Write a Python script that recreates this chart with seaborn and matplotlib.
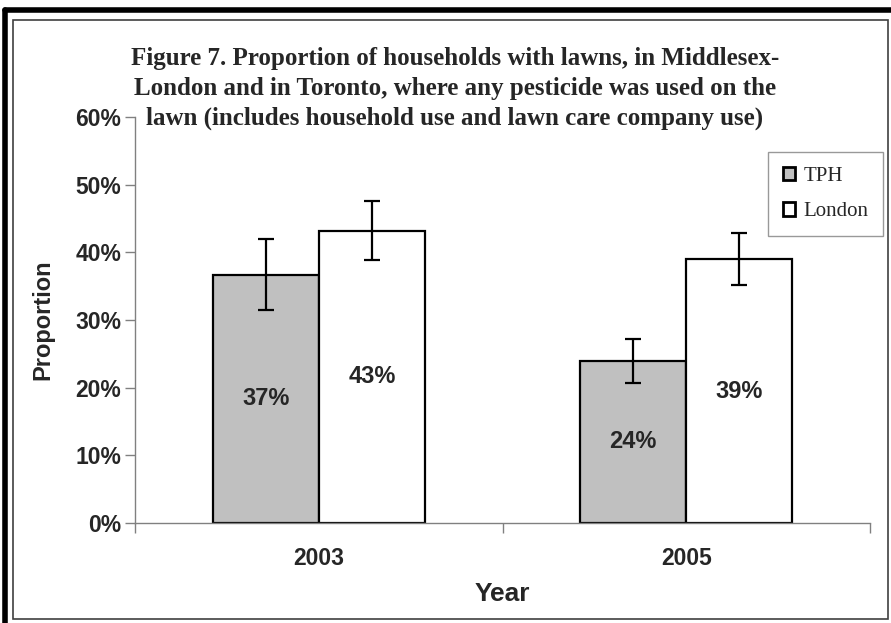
import matplotlib
matplotlib.use("Agg")
import matplotlib.pyplot as plt
from matplotlib.patches import Rectangle
from matplotlib.lines import Line2D
from matplotlib.ticker import FuncFormatter
import pandas as pd
import seaborn as sns

# data (percent)
years = ["2003", "2005"]
groups = ["TPH", "London"]
tph_vals = [36.7, 24.0]
london_vals = [43.2, 39.0]
tph_err = [5.2, 3.25]
london_err = [4.4, 3.8]
bar_colors = ["#C0C0C0", "#FFFFFF"]
title_lines = [
    "Figure 7. Proportion of households with lawns, in Middlesex-",
    "London and in Toronto, where any pesticide was used on the",
    "lawn (includes household use and lawn care company use)",
]

df = pd.DataFrame({
    "Year": years * 2,
    "Group": [groups[0]] * 2 + [groups[1]] * 2,
    "Proportion": tph_vals + london_vals,
})

sns.set_style("white")
plt.rcParams["font.family"] = ["Liberation Sans", "DejaVu Sans"]

W, H = 891, 623
fig = plt.figure(figsize=(W / 100, H / 100), dpi=100)
ax = fig.add_axes([135 / W, 1 - 523 / H, (870 - 135) / W, (523 - 117) / H])

sns.barplot(data=df, x="Year", y="Proportion", hue="Group", order=years,
            hue_order=groups, palette=bar_colors, width=0.578,
            edgecolor="black", linewidth=1.6, errorbar=None, ax=ax)

# error bars and centre labels
errs = [tph_err, london_err]
for cont, err in zip(ax.containers, errs):
    xs = [p.get_x() + p.get_width() / 2 for p in cont]
    ys = [p.get_height() for p in cont]
    ax.errorbar(xs, ys, yerr=err, fmt="none", ecolor="black",
                elinewidth=1.6, capsize=5.5, capthick=1.6, zorder=5)
    ax.bar_label(cont, labels=[f"{round(v):d}%" for v in ys],
                 label_type="center", fontsize=17, fontweight="bold")

ax.set_xlim(-0.5, 1.5)
ax.set_ylim(0, 60)
ax.set_yticks(range(0, 61, 10))
ax.yaxis.set_major_formatter(FuncFormatter(lambda v, p: f"{v:.0f}%"))
ax.set_xticks([-0.5, 0.5, 1.5], minor=True)
ax.tick_params(axis="x", which="major", length=0, pad=17, labelsize=16.5)
ax.tick_params(axis="x", which="minor", length=7, direction="out",
               color="#808080", width=1, bottom=True)
ax.tick_params(axis="y", length=7, direction="out", color="#808080",
               width=1, left=True, pad=3, labelsize=16.5)
for t in ax.get_xticklabels() + ax.get_yticklabels():
    t.set_fontweight("bold")

for s in ["top", "right"]:
    ax.spines[s].set_visible(False)
for s in ["left", "bottom"]:
    ax.spines[s].set_color("#808080")
    ax.spines[s].set_linewidth(1)

ax.set_xlabel("Year", fontsize=19, fontweight="bold", labelpad=9)
ax.set_ylabel("Proportion", fontsize=17, fontweight="bold", labelpad=15)

leg = ax.legend(loc="upper right", bbox_to_anchor=(883 / W, 1 - 152 / H),
                bbox_transform=fig.transFigure, frameon=True, fancybox=False,
                borderaxespad=0,
                prop={"family": "Liberation Serif", "size": 15},
                handlelength=0.6, handleheight=0.6, handletextpad=0.4,
                labelspacing=0.8, borderpad=0.7)
leg.get_frame().set_edgecolor("#808080")
leg.get_frame().set_linewidth(1)
for h in leg.legend_handles:
    h.set_linewidth(2)

# title
for i, line in enumerate(title_lines):
    fig.text(455 / W, 1 - (58 + 30 * i) / H, line, ha="center", va="center",
             fontsize=18, fontweight="bold", family="Liberation Serif")

# chart area border and thick frame
fig.add_artist(Rectangle((13 / W, 1 - 619 / H), (888 - 13) / W, (619 - 20) / H,
                         transform=fig.transFigure, fill=False,
                         edgecolor="#404040", linewidth=1.2))
fig.add_artist(Line2D([5 / W, 5 / W], [0, 1 - 10 / H], transform=fig.transFigure,
                      color="black", linewidth=4))
fig.add_artist(Line2D([5 / W, 1], [1 - 10 / H, 1 - 10 / H], transform=fig.transFigure,
                      color="black", linewidth=4))

fig.savefig("out.png", dpi=100)
